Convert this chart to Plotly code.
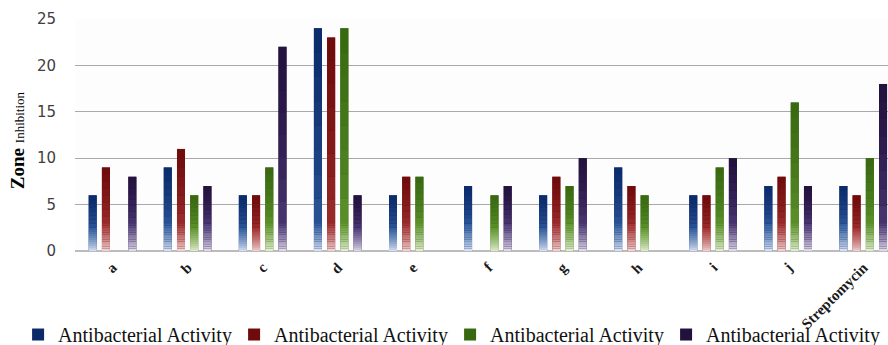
import plotly.graph_objects as go

categories = ["a", "b", "c", "d", "e", "f", "g", "h", "i", "j", "Streptomycin"]
series_names = ["Antibacterial Activity"] * 4
blue_vals = [6, 9, 6, 24, 6, 7, 6, 9, 6, 7, 7]
red_vals = [9, 11, 6, 23, 8, 0, 8, 7, 6, 8, 6]
green_vals = [0, 6, 9, 24, 8, 6, 7, 6, 9, 16, 10]
purple_vals = [8, 7, 22, 6, 0, 7, 10, 0, 10, 7, 18]
y_ticks = [0, 5, 10, 15, 20, 25]

all_vals = [blue_vals, red_vals, green_vals, purple_vals]
dark = ["#0b2a6a", "#6f0b0b", "#386810", "#22103d"]
mid = ["#2f5a9c", "#a23030", "#5f962e", "#4e3a78"]
light = ["#e6eefa", "#f8e0e0", "#eef5df", "#ede8f5"]


def hex2rgb(h):
    h = h.lstrip("#")
    return [int(h[i:i + 2], 16) for i in (0, 2, 4)]


def mix(c1, c2, t):
    a, b = hex2rgb(c1), hex2rgb(c2)
    return "rgb(%d,%d,%d)" % tuple(round(a[i] + (b[i] - a[i]) * t) for i in range(3))


x_idx = list(range(len(categories)))
slot = 0.176
bw = 0.107
n_fade = 12
n_upper = 8

fig = go.Figure()
for s, vals in enumerate(all_vals):
    off = (s - 1.5) * slot - bw / 2
    fig.add_trace(go.Bar(
        x=x_idx, y=vals, name=series_names[s], offset=off, width=bw,
        marker=dict(color=dark[s], line=dict(width=0)),
        showlegend=True,
    ))
    fade_h = [min(0.42 * v, 3.0) for v in vals]
    # fade zone near the base
    for k in range(n_fade):
        bases = [fh * k / n_fade for fh in fade_h]
        hs = [fh / n_fade for fh in fade_h]
        t = ((k + 0.5) / n_fade) ** 0.75
        fig.add_trace(go.Bar(
            x=x_idx, y=hs, base=bases, offset=off, width=bw,
            marker=dict(color=mix(light[s], mid[s], t), line=dict(width=0)),
            showlegend=False, hoverinfo="skip",
        ))
    # upper part: mid tone to dark top
    for k in range(n_upper):
        bases = [fh + (v - fh) * k / n_upper for v, fh in zip(vals, fade_h)]
        hs = [(v - fh) / n_upper for v, fh in zip(vals, fade_h)]
        t = (k + 0.5) / n_upper
        fig.add_trace(go.Bar(
            x=x_idx, y=hs, base=bases, offset=off, width=bw,
            marker=dict(color=mix(mid[s], dark[s], t ** 0.6), line=dict(width=0)),
            showlegend=False, hoverinfo="skip",
        ))

fig.update_layout(
    width=888, height=345,
    margin=dict(l=75, r=0, t=19, b=94, autoexpand=False),
    barmode="overlay",
    paper_bgcolor="white",
    plot_bgcolor="#fdfdfd",
    xaxis=dict(
        tickmode="array", tickvals=x_idx, ticktext=categories,
        range=[-0.5, 10.33], tickangle=-45, automargin=False,
        tickfont=dict(family="Liberation Serif", size=15, color="#1a1a1a"),
        showgrid=False, showline=False, zeroline=False, ticks="",
        ticklabelstandoff=4,
    ),
    yaxis=dict(
        range=[0, 25], tickvals=y_ticks, automargin=False,
        tickfont=dict(family="DejaVu Sans", size=15, color="#404040"),
        gridcolor="#a9a9a9", gridwidth=1,
        zeroline=True, zerolinecolor="#bcbcbc", zerolinewidth=2,
        showline=False, ticklabelstandoff=18,
    ),
    legend=dict(
        orientation="h", x=-0.070, xanchor="left", y=-0.36, yanchor="middle",
        font=dict(family="Liberation Serif", size=20, color="#111111"),
        entrywidth=171, entrywidthmode="pixels", itemwidth=30,
        bgcolor="rgba(0,0,0,0)",
    ),
    annotations=[dict(
        text="<b>Zone</b> <span style='font-size:13px'>Inhibition</span>",
        textangle=-90, xref="paper", yref="paper", x=-0.0713, y=0.478,
        xanchor="center", yanchor="middle", showarrow=False,
        font=dict(family="Liberation Serif", size=19, color="#000000"),
    )],
)
fig.update_xaxes(tickfont_weight="bold")

fig.write_html(
    "out.html",
    config={"displayModeBar": False},
    post_script="document.body.style.margin='0';document.body.style.overflow='hidden';",
)
